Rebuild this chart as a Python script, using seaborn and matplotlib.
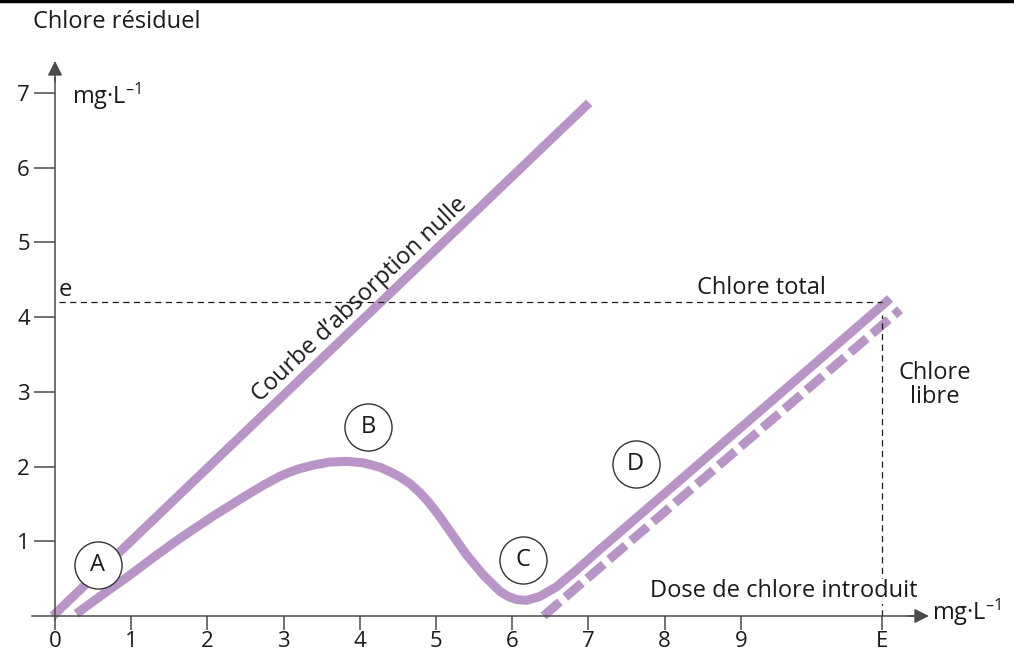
import numpy as np
import pandas as pd
import matplotlib.pyplot as plt
from matplotlib.lines import Line2D
import seaborn as sns

# courbe d'absorption nulle (droite y = x)
absorb_x = [-0.03, 7.01]
absorb_y = [0.0, 6.87]

# chlore total (courbe du break-point)
total_x = [0.28, 0.6, 1.0, 1.3, 1.64, 2.08, 2.3, 2.52, 2.75, 2.95, 3.08, 3.2, 3.39, 3.6,
           3.83, 4.05, 4.27, 4.4, 4.53, 4.66, 4.79, 4.88, 4.96, 5.07, 5.18, 5.29,
           5.40, 5.62, 5.84, 5.95, 6.06, 6.19, 6.36, 6.58, 6.85, 7.15, 10.96]
total_y = [0.03, 0.27, 0.56, 0.79, 1.04, 1.34, 1.48, 1.62, 1.76, 1.87, 1.925, 1.97, 2.02, 2.06,
           2.07, 2.05, 1.99, 1.93, 1.86, 1.77, 1.65, 1.55, 1.45, 1.30, 1.14, 0.98,
           0.82, 0.55, 0.33, 0.26, 0.22, 0.21, 0.26, 0.39, 0.62, 0.89, 4.25]

# chlore libre (pointillés)
libre_x = [6.41, 11.09]
libre_y = [0.0, 4.10]

x_ticks = [0, 1, 2, 3, 4, 5, 6, 7, 8, 9, 10.85]
x_tick_labels = ["0", "1", "2", "3", "4", "5", "6", "7", "8", "9", "E"]
y_ticks = [1, 2, 3, 4, 5, 6, 7]

e_level = 4.2
E_dose = 10.85

zones = ["A", "B", "C", "D"]
zone_x = [0.56, 4.11, 6.14, 7.62]
zone_y = [0.68, 2.53, 0.75, 2.03]

purple = "#b895c6"
ink = "#1c1a1b"
axis_col = "#4a4a4a"

sns.set_style("white")
plt.rcParams["font.family"] = ["Open Sans", "DejaVu Sans"]
plt.rcParams["mathtext.default"] = "regular"

fig = plt.figure(figsize=(10.14, 6.55), dpi=100)
ax = fig.add_axes([0, 0, 1, 1])
ax.set_xlim(-55 / 76.2, (1014 - 55) / 76.2)
ax.set_ylim(-(655 - 616) / 74.7, 616 / 74.7)
ax.patch.set_alpha(0)

lw = 6.5
sns.lineplot(x=absorb_x, y=absorb_y, ax=ax, color=purple, lw=lw,
             solid_capstyle="butt", sort=False)
sns.lineplot(x=total_x, y=total_y, ax=ax, color=purple, lw=lw,
             solid_capstyle="butt", solid_joinstyle="round", sort=False)
sns.lineplot(x=libre_x, y=libre_y, ax=ax, color=purple, lw=lw,
             linestyle=(0, (2.4, 0.8)), dash_capstyle="butt", sort=False)

# repères pointillés e et E
ax.plot([0.05, E_dose], [e_level, e_level], color=ink, lw=0.9, ls=(0, (5, 3.5)))
ax.plot([E_dose, E_dose], [0, 4.03], color=ink, lw=0.9, ls=(0, (5, 3.5)))

# axes
for side in ["top", "right"]:
    ax.spines[side].set_visible(False)
ax.spines["left"].set_position(("data", 0))
ax.spines["bottom"].set_position(("data", 0))
ax.spines["left"].set_bounds(-0.05, 7.2)
ax.spines["bottom"].set_bounds(-0.3, 11.3)
for side in ["left", "bottom"]:
    ax.spines[side].set_color(axis_col)
    ax.spines[side].set_linewidth(1.1)
ax.annotate("", xy=(11.47, 0), xytext=(11.2, 0),
            arrowprops=dict(arrowstyle="-|>", color=axis_col, lw=1.1,
                            mutation_scale=22, shrinkA=0, shrinkB=0))
ax.annotate("", xy=(0, 7.43), xytext=(0, 7.15),
            arrowprops=dict(arrowstyle="-|>", color=axis_col, lw=1.1,
                            mutation_scale=22, shrinkA=0, shrinkB=0))

ax.set_xticks(x_ticks)
ax.set_xticklabels(x_tick_labels)
ax.set_yticks(y_ticks)
ax.tick_params(axis="x", direction="out", length=10, width=1.1, color=axis_col,
               pad=1.0, labelsize=16, labelcolor=ink, bottom=True)
ax.tick_params(axis="y", direction="out", length=15, width=1.1, color=axis_col,
               pad=3.0, labelsize=16, labelcolor=ink, left=True)

# textes
fs = 17
ax.text(-0.29, 7.95, "Chlore résiduel", fontsize=fs, color=ink, ha="left", va="center")
ax.text(0.22, 6.96, "mg·L$^{–1}$", fontsize=fs, color=ink, ha="left", va="center")
ax.text(11.51, 0.05, "mg·L$^{–1}$", fontsize=fs, color=ink, ha="left", va="center")
ax.text(0.14, 4.36, "e", fontsize=fs, color=ink, ha="center", va="center")
ax.text(9.27, 4.39, "Chlore total", fontsize=fs, color=ink, ha="center", va="center")
ax.text(11.55, 3.09, "Chlore\nlibre", fontsize=fs, color=ink, ha="center", va="center",
        linespacing=1.0)
ax.text(9.57, 0.33, "Dose de chlore introduit", fontsize=fs, color=ink,
        ha="center", va="center", zorder=4,
        bbox=dict(facecolor="white", edgecolor="none", pad=0.5))
ax.text(4.0, 4.23, "Courbe d’absorption nulle", fontsize=fs, color=ink,
        ha="center", va="center", rotation=43.5, rotation_mode="anchor")

ax.scatter(zone_x, zone_y, s=1150, facecolor="white", edgecolor="#333333",
           linewidth=1.0, zorder=5)
for lab, zx, zy in zip(zones, zone_x, zone_y):
    ax.text(zx, zy, lab, fontsize=fs, color=ink, ha="center", va="center", zorder=6)

fig.add_artist(Line2D([0, 1], [0.9985, 0.9985], transform=fig.transFigure,
                      color="black", lw=2.5))

fig.savefig("out.png", dpi=100)
